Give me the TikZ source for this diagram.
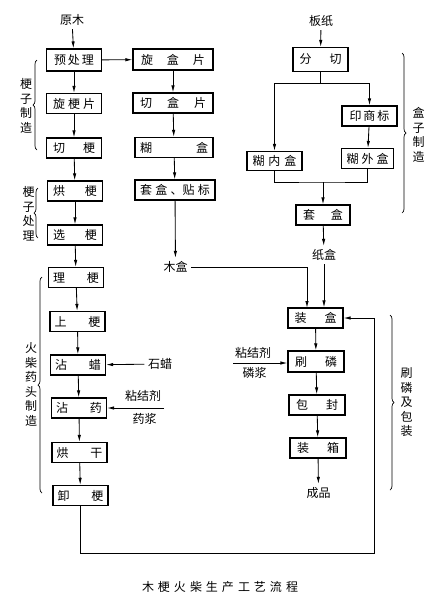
\documentclass[tikz,border=0pt]{standalone}
\usepackage{fontspec}
\setmainfont{Noto Sans CJK SC}
\usetikzlibrary{arrows.meta, decorations.pathreplacing}
\tikzset{
  procbox/.style={draw, line width=1.1pt, inner sep=0pt, minimum width=55pt, minimum height=20pt},
  arr/.style={-{Latex[length=7pt,width=3.4pt]}, line width=0.85pt},
  ln/.style={line width=0.85pt},
  lbrace/.style={decorate, decoration={brace, amplitude=4pt}, line width=0.7pt},
}
\newcommand{\spr}[2]{\makebox[#1][s]{#2}}

\begin{document}
\begin{tikzpicture}[x=1pt, y=-1pt, font=\fontsize{12}{14.5}\selectfont]
\useasboundingbox (0,0) rectangle (441,600);

% matchsticks
\node (yuanmu) at (72,20) {原木};
\node[procbox, minimum height=22pt] (yuchuli) at (74,60) {\spr{40pt}{预\hfill 处\hfill 理}};
\node[procbox] (xuangengpian) at (74,103.5) {\spr{42pt}{旋\hfill 梗\hfill 片}};
\node[procbox] (qiegeng) at (74,148) {\spr{42pt}{切\hfill 梗}};
\node[procbox] (honggeng) at (75,191) {\spr{44pt}{烘\hfill 梗}};
\node[procbox] (xuangeng) at (75,235) {\spr{44pt}{选\hfill 梗}};
\node[procbox] (ligeng) at (76,277.5) {\spr{46pt}{理\hfill 梗}};
\node[procbox] (shanggeng) at (77.5,321.5) {\spr{46pt}{上\hfill 梗}};
\node[procbox] (zhanla) at (78,365) {\spr{46pt}{沾\hfill 蜡}};
\node[procbox] (zhanyao) at (79,408) {\spr{46pt}{沾\hfill 药}};
\node[procbox] (honggan) at (79.5,452.5) {\spr{46pt}{烘\hfill 干}};
\node[procbox] (xiegeng) at (80.5,495.5) {\spr{46pt}{卸\hfill 梗}};

\draw[arr] (yuanmu) -- (yuchuli);
\draw[arr] (yuchuli) -- (xuangengpian);
\draw[arr] (xuangengpian) -- (qiegeng);
\draw[arr] (qiegeng) -- (honggeng);
\draw[arr] (honggeng) -- (xuangeng);
\draw[arr] (xuangeng) -- (ligeng);
\draw[arr] (ligeng) -- (shanggeng);
\draw[arr] (shanggeng) -- (zhanla);
\draw[arr] (zhanla) -- (zhanyao);
\draw[arr] (zhanyao) -- (honggan);
\draw[arr] (honggan) -- (xiegeng);

\node (shila) at (160,364) {石蜡};
\draw[arr] (shila) -- (zhanla);
\node (nianjie1) at (143,396) {粘结剂};
\node (yaojiang) at (144.5,419) {药浆};
\coordinate (nj1) at (164,408);
\draw[arr] (nj1) -- (zhanyao.east);

% wooden boxes
\node[procbox, minimum width=80pt, minimum height=21pt] (xuanhepian) at (173,59.5) {\spr{64pt}{旋\hfill 盒\hfill 片}};
\node[procbox, minimum width=80pt] (qiehepian) at (173,103) {\spr{66pt}{切\hfill 盒\hfill 片}};
\node[procbox, minimum width=78pt] (huhe) at (174,147.5) {\spr{68pt}{糊\hfill 盒}};
\node[procbox, minimum width=80pt] (taohetiebiao) at (175,190) {\spr{70pt}{套\hfill 盒\hfill 、贴\hfill 标}};
\node (muhe) at (175.5,267) {木盒};

\draw[arr] (yuchuli) -- (xuanhepian);
\draw[arr] (xuanhepian) -- (qiehepian);
\draw[arr] (qiehepian) -- (huhe);
\draw[arr] (huhe) -- (taohetiebiao);
\draw[arr] (taohetiebiao) -- (muhe);

% paper boxes
\node (banzhi) at (321,21) {板纸};
\node[procbox, minimum height=24pt] (fenqie) at (320.5,59.5) {\spr{42pt}{分\hfill 切}};
\node[procbox] (yinshangbiao) at (369.5,116) {\spr{40pt}{印\hfill 商\hfill 标}};
\node[procbox, minimum width=52pt] (huwaihe) at (367.5,158.5) {\spr{42pt}{糊\hfill 外\hfill 盒}};
\node[procbox, minimum height=19pt] (huneihe) at (274.5,161) {\spr{44pt}{糊\hfill 内\hfill 盒}};
\node[procbox, minimum width=54pt] (taohe) at (323,215) {\spr{40pt}{套\hfill 盒}};
\node (zhihe) at (324,255) {纸盒};

\coordinate (split) at (320.5,83);
\coordinate (merge) at (323,182);
\draw[arr] (banzhi) -- (fenqie);
\draw[ln] (fenqie) -- (split);
\draw[arr] (split) -| (huneihe.north);
\draw[arr] (split) -| (yinshangbiao.north);
\draw[arr] (yinshangbiao) -- (huwaihe);
\draw[ln] (huneihe.south) |- (merge) -| (huwaihe.south);
\draw[arr] (merge) -- (taohe);
\draw[arr] (taohe) -- (zhihe);

% packing
\node[procbox] (zhuanghe) at (315.5,318) {\spr{42pt}{装\hfill 盒}};
\node[procbox, minimum width=56pt, minimum height=21pt] (shualin) at (316,361.5) {\spr{42pt}{刷\hfill 磷}};
\node[procbox, minimum width=56pt] (baofeng) at (317,405) {\spr{42pt}{包\hfill 封}};
\node[procbox, minimum width=56pt] (zhuangxiang) at (318,448) {\spr{42pt}{装\hfill 箱}};
\node (chengpin) at (318.5,493) {成品};

\coordinate (mhin) at (307,308);
\coordinate (loop) at (374,553);
\draw[arr] (muhe.east) -| (mhin);
\draw[arr] (zhihe.south) -- (zhihe.south |- zhuanghe.north);
\draw[arr] (xiegeng.south) |- (loop) |- (zhuanghe.east);
\draw[arr] (zhuanghe) -- (shualin);
\draw[arr] (shualin) -- (baofeng);
\draw[arr] (baofeng) -- (zhuangxiang);
\draw[arr] (zhuangxiang) -- (chengpin);

\node (nianjie2) at (253,353) {粘结剂};
\node (linjiang) at (254.5,372.5) {磷浆};
\coordinate (nj2) at (233,363);
\draw[arr] (nj2) -- (nj2 -| shualin.west);

% braces
\draw[lbrace] (37,150) -- (37,60);
\node[align=center] (gzzz) at (26,106) {梗\\子\\制\\造};
\draw[lbrace] (38,238) -- (38,188);
\node[align=center] (gzcl) at (28.5,213.5) {梗\\子\\处\\理};
\draw[lbrace] (42,493) -- (42,277);
\node[align=center] (hcyt) at (31,384.5) {火\\柴\\药\\头\\制\\造};
\draw[lbrace] (402,53) -- (402,213);
\node[align=center] (hzzz) at (418.5,135) {盒\\子\\制\\造};
\draw[lbrace] (390,315) -- (390,490);
\node[align=center] (sljbz) at (406.5,402.5) {刷\\磷\\及\\包\\装};

\node (title) at (220,587) {\spr{156pt}{木\hfill 梗\hfill 火\hfill 柴\hfill 生\hfill 产\hfill 工\hfill 艺\hfill 流\hfill 程}};
\end{tikzpicture}
\end{document}
